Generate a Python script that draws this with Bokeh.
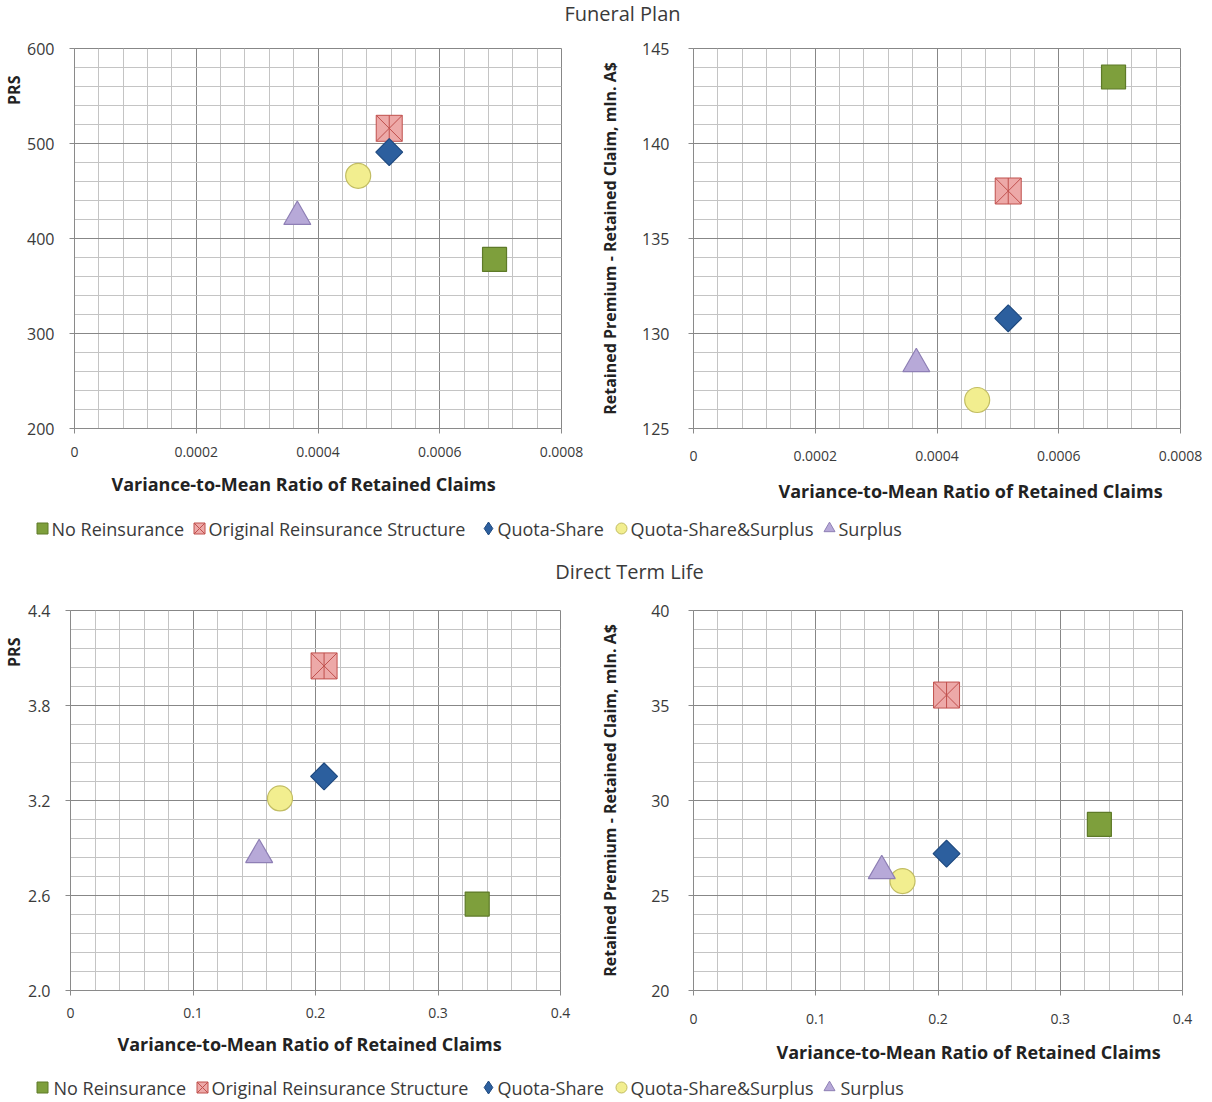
import math
from bokeh.plotting import figure
from bokeh.layouts import column, row
from bokeh.models import FixedTicker, PrintfTickFormatter, Title, Range1d
from bokeh.core.properties import value
from bokeh.embed import file_html
from bokeh.resources import INLINE

# ---------------- data ----------------
series = ["No Reinsurance", "Original Reinsurance Structure", "Quota-Share",
          "Quota-Share&Surplus", "Surplus"]

fp_vmr = [0.00069, 0.000517, 0.000517, 0.000466, 0.000366]
fp_prs = [378, 516, 491, 466, 423]
fp_net = [143.5, 137.5, 130.8, 126.5, 128.4]

dtl_vmr = [0.332, 0.207, 0.207, 0.171, 0.154]
dtl_prs = [2.546, 4.05, 3.352, 3.213, 2.857]
dtl_net = [28.74, 35.55, 27.2, 25.76, 26.3]

fp_x_ticks = [0, 0.0002, 0.0004, 0.0006, 0.0008]
fp_prs_ticks = [200, 300, 400, 500, 600]
fp_net_ticks = [125, 130, 135, 140, 145]
dtl_x_ticks = [0, 0.1, 0.2, 0.3, 0.4]
dtl_prs_ticks = [2.0, 2.6, 3.2, 3.8, 4.4]
dtl_net_ticks = [20, 25, 30, 35, 40]

titles = ["Funeral Plan", "Direct Term Life"]
x_label = "Variance-to-Mean Ratio of Retained Claims"
y_label_prs = "PRS"
y_label_net = "Retained Premium - Retained Claim, mln. A$"

# ---------------- style ----------------
FONT = "Open Sans"
TXT = "#3a3a3a"
fills = ["#7E9F3C", "#EDA9A8", "#2C5F9E", "#F2EE8F", "#B7A9D8"]
lines = ["#5E7A28", "#C0504D", "#1F4A80", "#C2BD63", "#8E7FB5"]
W = 1210


def minor(ticks):
    out = []
    for a, b in zip(ticks[:-1], ticks[1:]):
        for k in range(1, 5):
            out.append(a + (b - a) * k / 5)
    return out


def panel(xs, ys, xt, yt, xfmt, yfmt, width, height, bl, br, bt, bb,
          ystand, xstand, xlab_offset, xlab_standoff, ylabel, ylabel_mode,
          ylab_standoff=10, prs_offset=27, prs_standoff=8):
    p = figure(width=width, height=height, x_range=Range1d(xt[0], xt[-1]),
               y_range=Range1d(yt[0], yt[-1]), toolbar_location=None,
               output_backend="svg", min_border_left=bl, min_border_right=br,
               min_border_top=bt, min_border_bottom=bb)
    p.xaxis.ticker = FixedTicker(ticks=xt, minor_ticks=minor(xt))
    p.yaxis.ticker = FixedTicker(ticks=yt, minor_ticks=minor(yt))
    p.xaxis.formatter = PrintfTickFormatter(format=xfmt)
    p.yaxis.formatter = PrintfTickFormatter(format=yfmt)
    for ax in (p.xaxis[0], p.yaxis[0]):
        ax.axis_line_color = "#8a8a8a"
        ax.major_tick_line_color = "#8a8a8a"
        ax.major_tick_out = 5
        ax.major_tick_in = 0
        ax.minor_tick_line_color = None
        ax.major_label_text_font = FONT
        ax.major_label_text_color = TXT
    p.xaxis.major_label_text_font_size = "14px"
    p.yaxis.major_label_text_font_size = "16px"
    p.yaxis.major_label_standoff = ystand
    p.xaxis.major_label_standoff = xstand
    p.grid.grid_line_color = "#878787"
    p.grid.minor_grid_line_color = "#c4c4c4"
    p.outline_line_color = "#878787"
    p.background_fill_color = "white"
    p.border_fill_color = "white"

    p.add_layout(Title(text=x_label, align="left", offset=xlab_offset,
                       text_font=FONT, text_font_size="18px",
                       text_font_style="bold", text_color="#222222",
                       standoff=xlab_standoff), "below")
    if ylabel_mode == "title":
        p.add_layout(Title(text=ylabel, align="right", offset=prs_offset,
                           text_font=FONT, text_font_size="16px",
                           text_font_style="bold", text_color="#222222",
                           standoff=prs_standoff), "left")
    else:
        p.yaxis.axis_label = ylabel
        p.yaxis.axis_label_text_font = FONT
        p.yaxis.axis_label_text_font_size = "16px"
        p.yaxis.axis_label_text_font_style = "bold"
        p.yaxis.axis_label_text_color = "#222222"
        p.yaxis.axis_label_standoff = ylab_standoff

    # markers
    p.scatter([xs[0]], [ys[0]], marker="square", size=24,
              fill_color=fills[0], line_color=lines[0], line_width=1.2)
    p.scatter([xs[1]], [ys[1]], marker="square_x", size=26,
              fill_color=fills[1], line_color=lines[1], line_width=1.0)
    p.scatter([xs[1]], [ys[1]], marker="dash", size=26, angle=math.pi / 2,
              line_color=lines[1], line_width=1.0)
    p.scatter([xs[2]], [ys[2]], marker="square", size=19, angle=math.pi / 4,
              fill_color=fills[2], line_color=lines[2], line_width=1.2)
    p.scatter([xs[3]], [ys[3]], marker="circle", size=25,
              fill_color=fills[3], line_color=lines[3], line_width=1.2)
    p.scatter([xs[4]], [ys[4]], marker="triangle", size=27,
              fill_color=fills[4], line_color=lines[4], line_width=1.2)
    return p


def text_fig(height):
    p = figure(width=W, height=height, x_range=Range1d(0, W),
               y_range=Range1d(0, height), toolbar_location=None,
               output_backend="svg", min_border=0, x_axis_type=None,
               y_axis_type=None)
    p.grid.visible = False
    p.outline_line_color = None
    p.background_fill_color = "white"
    p.border_fill_color = "white"
    return p


def title_fig(text, height, cy, cx):
    p = text_fig(height)
    p.text([cx], [height - cy], text=[text], text_font=value(FONT),
           text_font_size="20px", text_align="center",
           text_baseline="middle", text_color=TXT)
    return p


def legend_fig(height, cy, mx, tx):
    p = text_fig(height)
    y = height - cy
    mk = ["square", "square_x", "diamond", "circle", "triangle"]
    for i in range(5):
        p.scatter([mx[i]], [y], marker=mk[i], size=11 if mk[i] != "diamond" else 13,
                  fill_color=fills[i], line_color=lines[i], line_width=1)
        p.text([tx[i]], [y], text=[series[i]], text_font=value(FONT),
               text_font_size="18px", text_align="left",
               text_baseline="middle", text_color=TXT)
    return p


t1 = title_fig(titles[0], 30, 13, 622)

f1 = panel(fp_vmr, fp_prs, fp_x_ticks, fp_prs_ticks, "%g", "%d",
           596, 486, 72, 35, 18, 88, ystand=15, xstand=13,
           xlab_offset=37, xlab_standoff=21, ylabel=y_label_prs,
           ylabel_mode="title", prs_offset=27, prs_standoff=0)
f2 = panel(fp_vmr, fp_net, fp_x_ticks, fp_net_ticks, "%g", "%d",
           614, 486, 94, 30, 18, 88, ystand=19, xstand=17,
           xlab_offset=85, xlab_standoff=26, ylabel=y_label_net,
           ylabel_mode="axis", ylab_standoff=18)

l1 = legend_fig(32, 12, [42, 199, 488, 621, 829], [51, 208, 497, 630, 838])
t2 = title_fig(titles[1], 42, 23, 629)

f3 = panel(dtl_vmr, dtl_prs, dtl_x_ticks, dtl_prs_ticks, "%g", "%.1f",
           596, 485, 70, 36, 20, 85, ystand=15, xstand=12,
           xlab_offset=47, xlab_standoff=18, ylabel=y_label_prs,
           ylabel_mode="title", prs_offset=27, prs_standoff=0)
f4 = panel(dtl_vmr, dtl_net, dtl_x_ticks, dtl_net_ticks, "%g", "%d",
           614, 485, 94, 28, 20, 85, ystand=19, xstand=18,
           xlab_offset=83, xlab_standoff=23, ylabel=y_label_net,
           ylabel_mode="axis", ylab_standoff=27)

l2 = legend_fig(26, 12, [42, 202, 488, 621, 829], [53, 211, 497, 630, 840])

layout = column(t1, row(f1, f2), l1, t2, row(f3, f4), l2)

open("out.html", "w").write(file_html(layout, INLINE))
